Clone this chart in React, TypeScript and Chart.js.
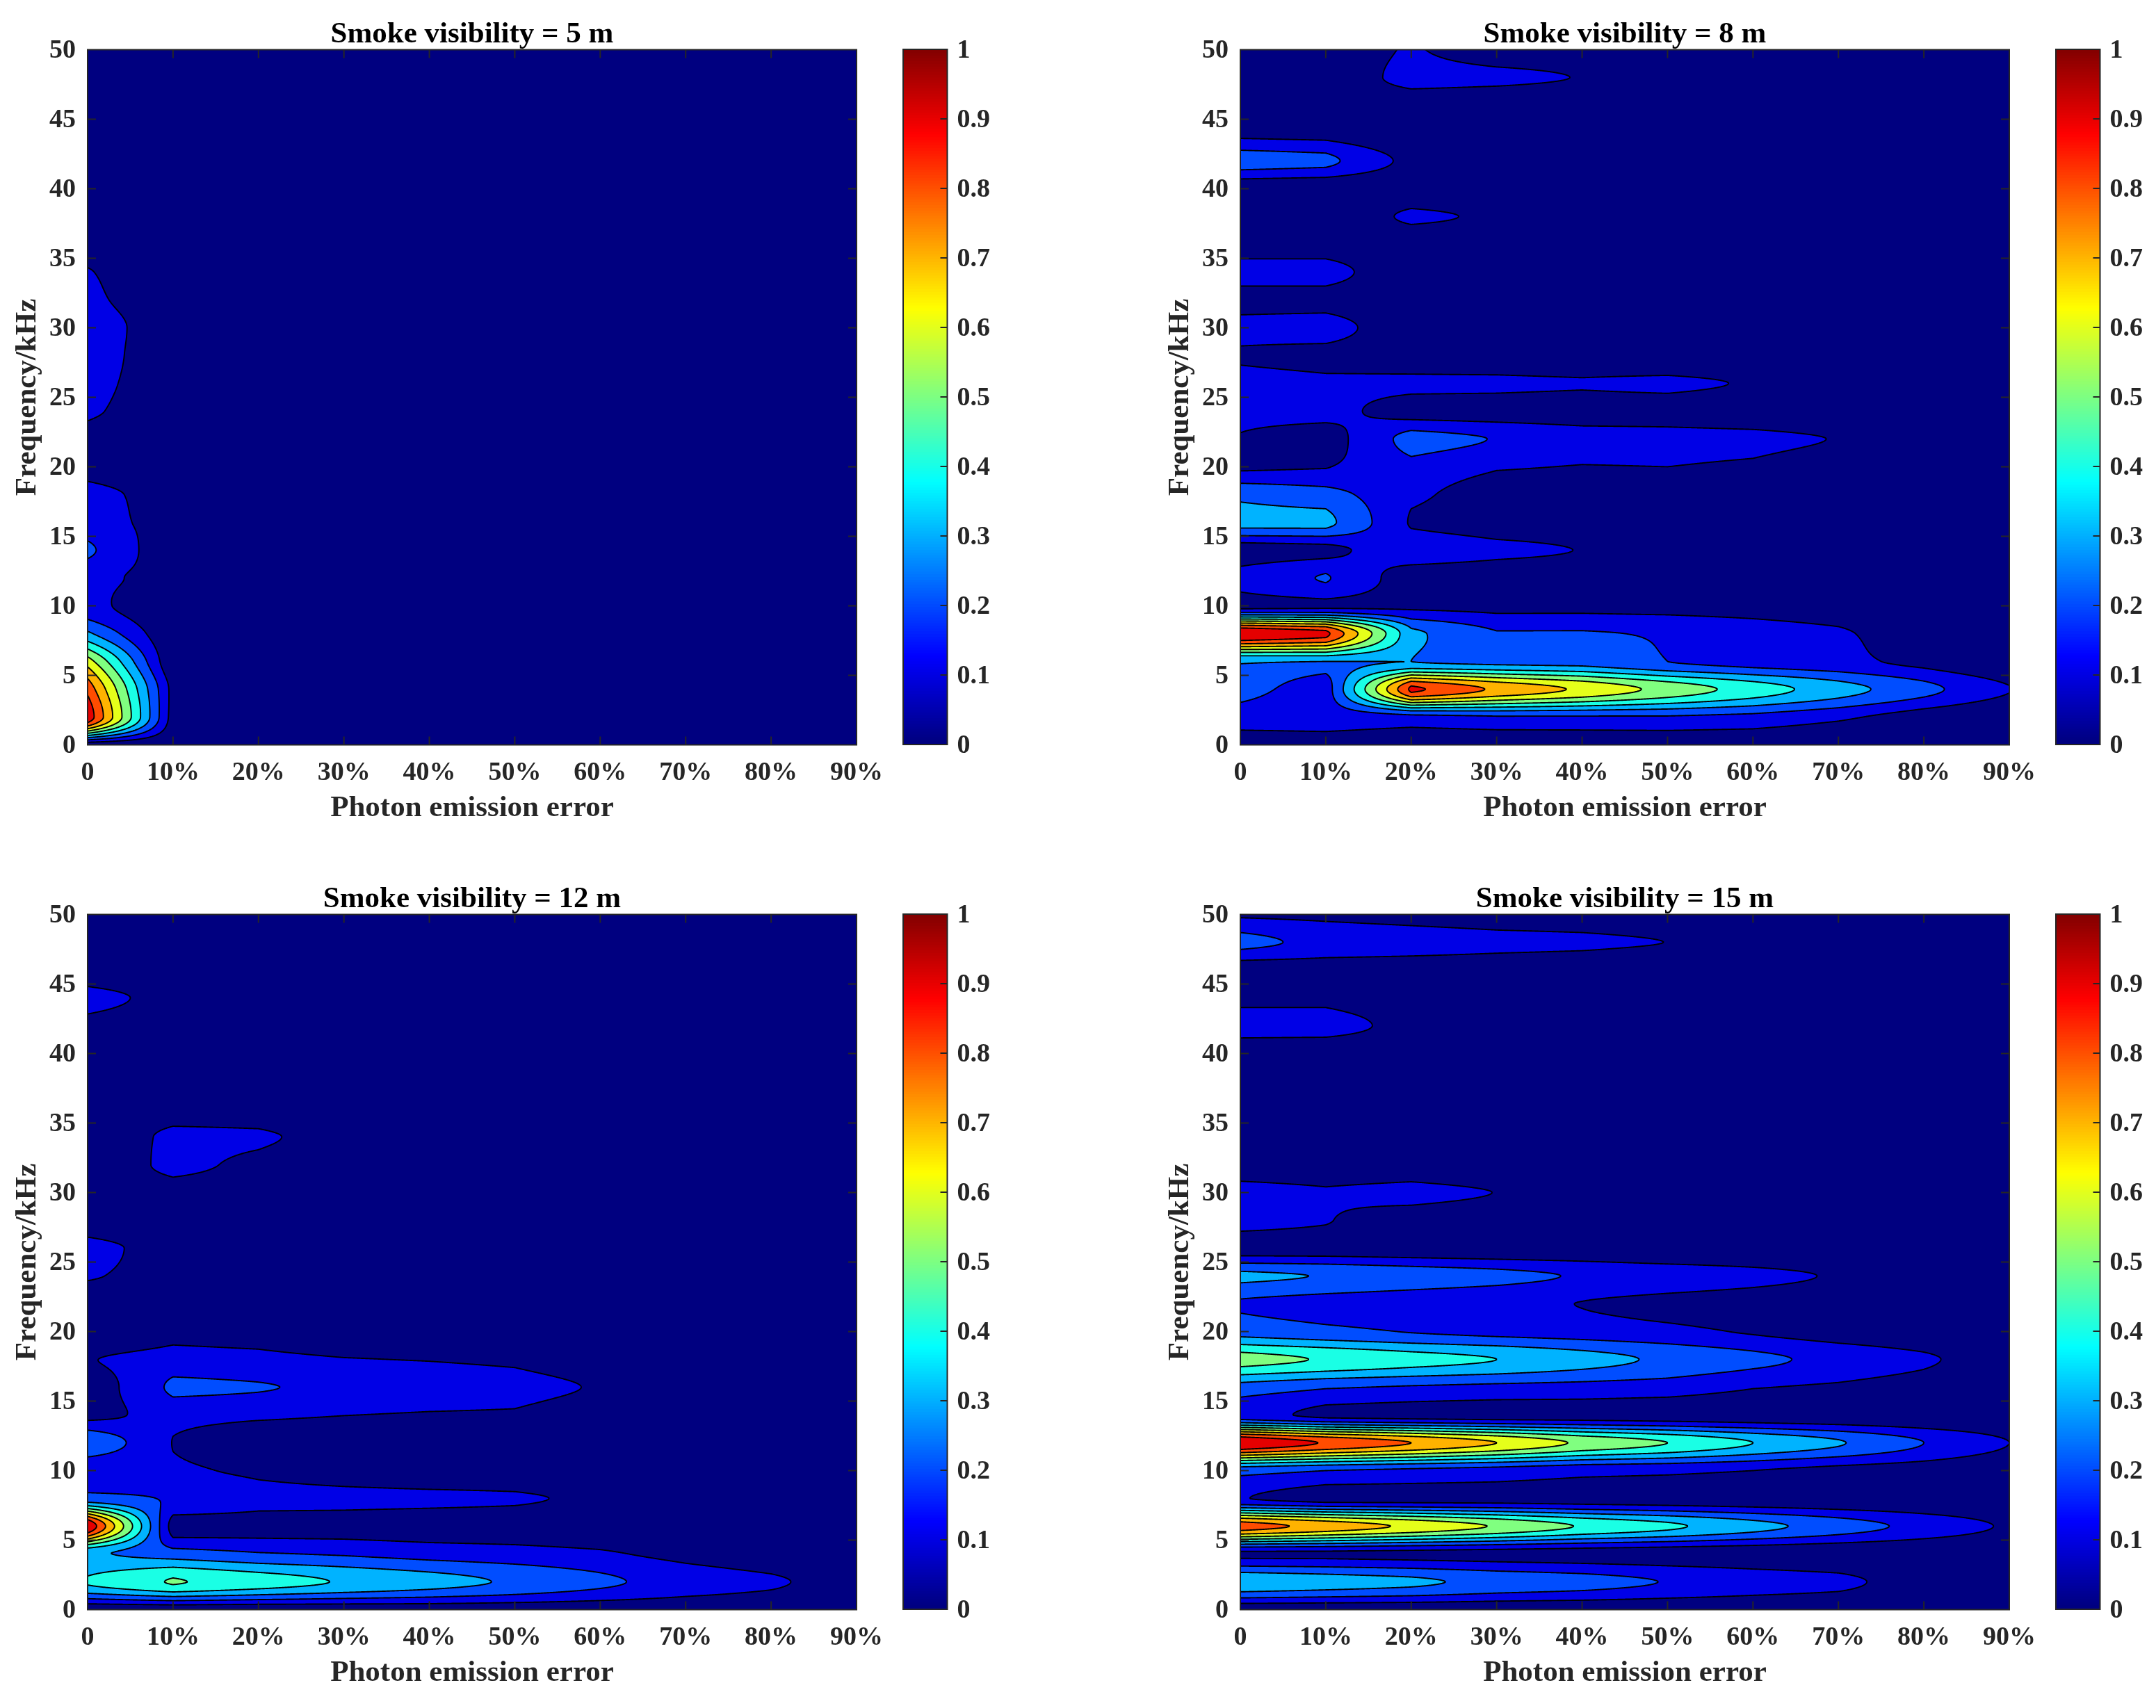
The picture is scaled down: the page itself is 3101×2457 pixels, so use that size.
import React, { useEffect, useRef } from "react";
import { Chart, registerables } from "chart.js";

Chart.register(...registerables);

const errorKnots = [0, 10, 20, 30, 40, 50, 60, 70, 80, 90];
const xTickLabels = ["0", "10%", "20%", "30%", "40%", "50%", "60%", "70%", "80%", "90%"];
const barTickLabels = ["0", "0.1", "0.2", "0.3", "0.4", "0.5", "0.6", "0.7", "0.8", "0.9", "1"];
const freqKnots = [0, 2, 4, 6, 8, 10, 12, 14, 16, 18, 20, 22, 24, 26, 28, 30, 32, 34, 36, 38, 40, 42, 44, 46, 48, 50];
const contourLevels = [0.1, 0.2, 0.3, 0.4, 0.5, 0.6, 0.7, 0.8, 0.9];

// rows run from 0 kHz to 50 kHz in 2 kHz steps; missing trailing columns are 0
const vis5 = [
  [0, 0], [0.97, 0.05], [0.87, 0.06], [0.65, 0], [0.32, 0], [0.14, 0], [0.13, 0.06], [0.22, 0.02],
  [0.14, 0.063], [0.13, 0.06], [0.07, 0.03], [0.07, 0.02], [0.115, 0.04], [0.125, 0.055], [0.13, 0.06],
  [0.13, 0.065], [0.115, 0.055], [0.105, 0.04], [0.05, 0.02], [0.02, 0.01], [0.01], [], [], [], [], [],
];
const vis8 = [
  [0.04, 0.04, 0.02, 0.02, 0.02, 0.02, 0.02, 0.01],
  [0.15, 0.14, 0.17, 0.19, 0.19, 0.19, 0.17, 0.12, 0.05],
  [0.24, 0.14, 0.924, 0.78, 0.682, 0.564, 0.454, 0.343, 0.23, 0.105],
  [0.31, 0.3, 0.3, 0.27, 0.26, 0.2, 0.16, 0.13, 0.07],
  [1.0, 0.93, 0.32, 0.21, 0.21, 0.19, 0.15, 0.115, 0.04],
  [0.07, 0.08, 0.08, 0.07, 0.07, 0.06, 0.05, 0.03, 0.01],
  [0.13, 0.21, 0.04, 0.03, 0.03, 0.02, 0.01],
  [0.05, 0.07, 0.17, 0.125, 0.097, 0.04, 0.02],
  [0.33, 0.33, 0.09, 0.05, 0.04, 0.02],
  [0.28, 0.24, 0.12, 0.05, 0.03],
  [0.09, 0.095, 0.17, 0.11, 0.095, 0.1, 0.08, 0.03],
  [0.095, 0.05, 0.24, 0.195, 0.15, 0.14, 0.13, 0.095, 0.03],
  [0.13, 0.13, 0.06, 0.05, 0.04, 0.04, 0.02],
  [0.14, 0.12, 0.12, 0.12, 0.11, 0.125, 0.09, 0.02],
  [0.085, 0.06, 0.03, 0.02, 0.01],
  [0.14, 0.16],
  [0.05, 0.05],
  [0.15, 0.15],
  [0.03, 0.03],
  [0, 0, 0.125, 0.08],
  [0.03, 0.02],
  [0.25, 0.227, 0.066, 0.01],
  [0.07, 0.06],
  [0, 0, 0.01],
  [0, 0, 0.15, 0.13, 0.095, 0.03],
  [0, 0, 0.12],
];
const vis12 = [
  [0, 0, 0, 0.01, 0.02, 0.02, 0.02, 0.02, 0.01],
  [0.41, 0.51, 0.45, 0.39, 0.34, 0.285, 0.22, 0.155, 0.115, 0.05],
  [0.32, 0.25, 0.21, 0.19, 0.16, 0.14, 0.115, 0.07, 0.03],
  [1.0, 0.05, 0.06, 0.06, 0.05, 0.05, 0.04, 0.03, 0.01],
  [0.24, 0.19, 0.13, 0.125, 0.12, 0.11, 0.085, 0.03],
  [0.12, 0.12, 0.08, 0.05, 0.03, 0.03, 0.01],
  [0.285, 0.097, 0.03, 0.02, 0.01],
  [0.07, 0.135, 0.12, 0.102, 0.09, 0.085, 0.03],
  [0.03, 0.22, 0.205, 0.185, 0.16, 0.135, 0.09, 0.03],
  [0.095, 0.135, 0.125, 0.105, 0.095, 0.08, 0.03],
  [0.03, 0.07, 0.06, 0.03, 0.02, 0.02],
  [0.03, 0.01],
  [0.11, 0.06],
  [0.13, 0.06],
  [0.03, 0.01],
  [0, 0.04, 0.03],
  [0, 0.135, 0.07, 0.01],
  [0, 0.13, 0.115, 0.06, 0.01],
  [0, 0.03, 0.03],
  [], [],
  [0.06, 0.02],
  [0.14, 0.06],
  [0.02],
  [], [],
];
const vis15 = [
  [],
  [0.38, 0.35, 0.32, 0.27, 0.24, 0.195, 0.155, 0.125, 0.05],
  [0.08, 0.08, 0.07, 0.06, 0.05, 0.04, 0.03, 0.02, 0.01],
  [0.85, 0.763, 0.68, 0.59, 0.49, 0.42, 0.335, 0.25, 0.166, 0.085],
  [0.105, 0.06, 0.06, 0.06, 0.05, 0.04, 0.03, 0.02, 0.01],
  [0.24, 0.2, 0.18, 0.16, 0.13, 0.12, 0.1, 0.07, 0.05, 0.02],
  [1.0, 0.89, 0.8, 0.7, 0.58, 0.5, 0.4, 0.31, 0.2, 0.1],
  [0.14, 0.075, 0.06, 0.05, 0.05, 0.04, 0.03, 0.02, 0.01],
  [0.26, 0.21, 0.19, 0.175, 0.165, 0.15, 0.105, 0.085, 0.05],
  [0.54, 0.49, 0.44, 0.4, 0.34, 0.28, 0.225, 0.17, 0.115, 0.04],
  [0.26, 0.225, 0.195, 0.17, 0.15, 0.125, 0.09, 0.05, 0.02],
  [0.19, 0.16, 0.14, 0.12, 0.098, 0.07, 0.05, 0.03, 0.01],
  [0.32, 0.295, 0.26, 0.23, 0.19, 0.165, 0.13, 0.09, 0.03],
  [0.05, 0.05, 0.04, 0.03, 0.02],
  [0.13, 0.105, 0.05, 0.03, 0.01],
  [0.14, 0.11, 0.135, 0.098, 0.02],
  [0.02, 0.01, 0.02],
  [], [], [],
  [0.01],
  [0.16, 0.16, 0.05],
  [0.07, 0.07, 0.02],
  [0.05, 0.05, 0.04, 0.03, 0.02],
  [0.23, 0.17, 0.15, 0.13, 0.12, 0.099, 0.02],
  [0.08, 0.07, 0.05, 0.03, 0.02],
];

const panels = [
  { title: "Smoke visibility = 5 m", rows: vis5, left: 0, top: 0 },
  { title: "Smoke visibility = 8 m", rows: vis8, left: 1658, top: 0 },
  { title: "Smoke visibility = 12 m", rows: vis12, left: 0, top: 1244 },
  { title: "Smoke visibility = 15 m", rows: vis15, left: 1658, top: 1244 },
];

const FONT = "'Liberation Serif', 'Times New Roman', serif";
const INK = "#262626";
const MAIN_W = 1290;
const MAIN_H = 1220;
const BAR_W = 160;
const PLOT_LEFT = 126;
const PLOT_RIGHT = 1232;
const PLOT_TOP = 71.4;
const PLOT_BOTTOM = 1071.5;
const TITLE_BOX = 43.4;

function jet(t: number): [number, number, number] {
  const c = (v: number) => Math.round(255 * Math.max(0, Math.min(1, v)));
  return [
    c(Math.min(4 * t - 1.5, -4 * t + 4.5)),
    c(Math.min(4 * t - 0.5, -4 * t + 3.5)),
    c(Math.min(4 * t + 0.5, -4 * t + 2.5)),
  ];
}

// shape-preserving cubic slopes along the frequency axis
function pchipSlopes(h: number, ys: number[]) {
  const n = ys.length;
  const del = new Array(n - 1);
  for (let i = 0; i < n - 1; i++) del[i] = (ys[i + 1] - ys[i]) / h;
  const m = new Array(n).fill(0);
  for (let i = 1; i < n - 1; i++) {
    if (del[i - 1] * del[i] > 0) m[i] = (2 * del[i - 1] * del[i]) / (del[i - 1] + del[i]);
  }
  m[0] = del[0];
  m[n - 1] = del[n - 2];
  return m;
}

function pchipAt(h: number, ys: number[], m: number[], x: number) {
  let k = Math.floor(x / h);
  k = Math.max(0, Math.min(ys.length - 2, k));
  const t = (x - k * h) / h;
  const t2 = t * t;
  const t3 = t2 * t;
  return (
    (2 * t3 - 3 * t2 + 1) * ys[k] +
    (t3 - 2 * t2 + t) * h * m[k] +
    (-2 * t3 + 3 * t2) * ys[k + 1] +
    (t3 - t2) * h * m[k + 1]
  );
}

function contourPlugin(rows: number[][]) {
  return {
    id: "contourFill",
    afterDatasetsDraw(chart: any) {
      const { ctx, chartArea, scales } = chart;
      const xS = scales.x;
      const yS = scales.y;
      const left = Math.round(chartArea.left);
      const top = Math.round(chartArea.top);
      const w = Math.round(chartArea.right) - left;
      const h = Math.round(chartArea.bottom) - top;
      const nx = w + 1;
      const ny = h + 1;
      const freqAt = new Float64Array(ny);
      for (let j = 0; j < ny; j++) freqAt[j] = yS.getValueForPixel(top + j);
      const fStep = freqKnots[1] - freqKnots[0];
      const cols = errorKnots.map((_, c) => {
        const ys = rows.map((r) => (c < r.length ? r[c] : 0));
        const m = pchipSlopes(fStep, ys);
        const out = new Float32Array(ny);
        for (let j = 0; j < ny; j++) out[j] = pchipAt(fStep, ys, m, freqAt[j]);
        return out;
      });
      const V = new Float32Array(nx * ny);
      const step = errorKnots[1] - errorKnots[0];
      for (let i = 0; i < nx; i++) {
        const e = Math.max(0, Math.min(90, xS.getValueForPixel(left + i)));
        const c = Math.min(errorKnots.length - 2, Math.floor(e / step));
        const t = (e - errorKnots[c]) / step;
        const a = cols[c];
        const b = cols[c + 1];
        for (let j = 0; j < ny; j++) V[j * nx + i] = a[j] * (1 - t) + b[j] * t;
      }
      const palette = Array.from({ length: 10 }, (_, k) => jet(k / 10));
      const off = document.createElement("canvas");
      off.width = w;
      off.height = h;
      const octx = off.getContext("2d")!;
      const img = octx.createImageData(w, h);
      for (let j = 0; j < h; j++) {
        for (let i = 0; i < w; i++) {
          const v = V[j * nx + i];
          let band = Math.floor(v * 10);
          band = band < 0 ? 0 : band > 9 ? 9 : band;
          const rgb = palette[band];
          const o = (j * w + i) * 4;
          img.data[o] = rgb[0];
          img.data[o + 1] = rgb[1];
          img.data[o + 2] = rgb[2];
          img.data[o + 3] = 255;
        }
      }
      octx.putImageData(img, 0, 0);
      ctx.save();
      ctx.drawImage(off, left, top);
      ctx.beginPath();
      ctx.rect(chartArea.left, chartArea.top, chartArea.width, chartArea.height);
      ctx.clip();
      ctx.strokeStyle = "#000";
      ctx.lineWidth = 1.9;
      ctx.lineCap = "round";
      ctx.lineJoin = "round";
      for (const level of contourLevels) {
        ctx.beginPath();
        for (let j = 0; j < h; j++) {
          for (let i = 0; i < w; i++) {
            const a = V[j * nx + i];
            const b = V[j * nx + i + 1];
            const c = V[(j + 1) * nx + i + 1];
            const d = V[(j + 1) * nx + i];
            const code = (a >= level ? 1 : 0) | (b >= level ? 2 : 0) | (c >= level ? 4 : 0) | (d >= level ? 8 : 0);
            if (code === 0 || code === 15) continue;
            const px: number[] = [];
            if ((code & 1) !== ((code >> 1) & 1)) px.push(left + i + (level - a) / (b - a), top + j);
            if (((code >> 1) & 1) !== ((code >> 2) & 1)) px.push(left + i + 1, top + j + (level - b) / (c - b));
            if (((code >> 2) & 1) !== ((code >> 3) & 1)) px.push(left + i + 1 - (level - c) / (d - c), top + j + 1);
            if (((code >> 3) & 1) !== (code & 1)) px.push(left + i, top + j + 1 - (level - d) / (a - d));
            ctx.moveTo(px[0], px[1]);
            ctx.lineTo(px[2], px[3]);
            if (px.length === 8) {
              ctx.moveTo(px[4], px[5]);
              ctx.lineTo(px[6], px[7]);
            }
          }
        }
        ctx.stroke();
      }
      ctx.restore();
    },
  };
}

const framePlugin = {
  id: "boxFrame",
  afterDraw(chart: any) {
    const { ctx, chartArea: a, scales } = chart;
    const tickLen = 12;
    ctx.save();
    ctx.strokeStyle = INK;
    ctx.lineWidth = 2;
    ctx.beginPath();
    ctx.rect(a.left, a.top, a.width, a.height);
    for (const t of scales.x.ticks) {
      const p = scales.x.getPixelForValue(t.value);
      ctx.moveTo(p, a.bottom);
      ctx.lineTo(p, a.bottom - tickLen);
      ctx.moveTo(p, a.top);
      ctx.lineTo(p, a.top + tickLen);
    }
    for (const t of scales.y.ticks) {
      const p = scales.y.getPixelForValue(t.value);
      ctx.moveTo(a.left, p);
      ctx.lineTo(a.left + tickLen, p);
      ctx.moveTo(a.right, p);
      ctx.lineTo(a.right - tickLen, p);
    }
    ctx.stroke();
    ctx.restore();
  },
};

const barFramePlugin = {
  id: "barFrame",
  afterDraw(chart: any) {
    const { ctx, chartArea: a, scales } = chart;
    ctx.save();
    ctx.strokeStyle = INK;
    ctx.lineWidth = 2;
    ctx.beginPath();
    ctx.rect(a.left, a.top, a.width, a.height);
    for (const t of scales.y.ticks) {
      const p = scales.y.getPixelForValue(t.value);
      ctx.moveTo(a.right, p);
      ctx.lineTo(a.right - 10, p);
    }
    ctx.stroke();
    ctx.restore();
  },
};

function Panel({ title, rows, left, top }: { title: string; rows: number[][]; left: number; top: number }) {
  const mainRef = useRef<HTMLCanvasElement>(null);
  const barRef = useRef<HTMLCanvasElement>(null);
  useEffect(() => {
    const points: { x: number; y: number; v: number }[] = [];
    rows.forEach((r, j) =>
      errorKnots.forEach((x, c) => points.push({ x, y: freqKnots[j], v: c < r.length ? r[c] : 0 }))
    );
    const tickFont = { family: FONT, size: 38, weight: "bold" as const };
    const labelFont = { family: FONT, size: 43, weight: "bold" as const };
    const main = new Chart(mainRef.current!, {
      type: "scatter",
      data: { datasets: [{ label: title, data: points, pointRadius: 0, showLine: false }] },
      plugins: [contourPlugin(rows), framePlugin],
      options: {
        animation: false,
        responsive: false,
        layout: {
          autoPadding: false,
          padding: { top: PLOT_TOP - TITLE_BOX, left: 0, right: MAIN_W - PLOT_RIGHT, bottom: 0 },
        },
        plugins: {
          legend: { display: false },
          tooltip: { enabled: false },
          title: {
            display: true,
            text: title,
            color: "#000",
            font: { ...labelFont, lineHeight: TITLE_BOX / 43 },
            fullSize: false,
            padding: 0,
          },
        },
        scales: {
          x: {
            type: "linear",
            min: 0,
            max: 90,
            grid: { display: false, drawTicks: false },
            border: { display: false },
            ticks: {
              stepSize: 10,
              autoSkip: false,
              maxRotation: 0,
              minRotation: 0,
              padding: 18,
              color: INK,
              font: tickFont,
              callback: (_v: any, i: number) => xTickLabels[i],
            },
            title: {
              display: true,
              text: "Photon emission error",
              color: INK,
              font: labelFont,
              padding: { top: 0, bottom: 31 },
            },
            afterFit: (s: any) => {
              s.height = MAIN_H - PLOT_BOTTOM;
            },
          },
          y: {
            type: "linear",
            min: 0,
            max: 50,
            grid: { display: false, drawTicks: false },
            border: { display: false },
            ticks: { stepSize: 5, autoSkip: false, padding: 17, labelOffset: 2, color: INK, font: tickFont },
            title: {
              display: true,
              text: "Frequency/kHz",
              color: INK,
              font: labelFont,
              padding: { top: 14, bottom: 0 },
            },
            afterFit: (s: any) => {
              s.width = PLOT_LEFT;
            },
          },
        },
      } as any,
    });
    const steps = Array.from({ length: 256 }, (_, i) => i);
    const bar = new Chart(barRef.current!, {
      type: "bar",
      data: {
        labels: ["colour"],
        datasets: steps.map((i) => {
          const [r, g, b] = jet((i + 0.5) / 256);
          return {
            label: String(i),
            data: [[i / 256, (i + 1.6) / 256]],
            backgroundColor: `rgb(${r},${g},${b})`,
            borderWidth: 0,
            barPercentage: 1,
            categoryPercentage: 1,
            grouped: false,
          };
        }),
      },
      plugins: [barFramePlugin],
      options: {
        animation: false,
        responsive: false,
        layout: {
          autoPadding: false,
          padding: { top: 71, left: 9, right: 0, bottom: MAIN_H - 1071 },
        },
        plugins: { legend: { display: false }, tooltip: { enabled: false } },
        scales: {
          x: { display: false, grid: { display: false } },
          y: {
            type: "linear",
            position: "right",
            min: 0,
            max: 1,
            grid: { display: false, drawTicks: false },
            border: { display: false },
            ticks: {
              stepSize: 0.1,
              autoSkip: false,
              padding: 14,
              labelOffset: 2,
              color: INK,
              font: tickFont,
              callback: (_v: any, i: number) => barTickLabels[i],
            },
            afterFit: (s: any) => {
              s.width = BAR_W - 9 - 63.5;
            },
          },
        },
      } as any,
    });
    return () => {
      main.destroy();
      bar.destroy();
    };
  }, [title, rows]);
  return (
    <>
      <canvas
        ref={mainRef}
        width={MAIN_W}
        height={MAIN_H}
        style={{ position: "absolute", left, top, width: MAIN_W, height: MAIN_H }}
      />
      <canvas
        ref={barRef}
        width={BAR_W}
        height={MAIN_H}
        style={{ position: "absolute", left: left + 1290, top, width: BAR_W, height: MAIN_H }}
      />
    </>
  );
}

export default function App() {
  return (
    <div style={{ position: "absolute", left: 0, top: 0, width: 3101, height: 2457, background: "#fff", overflow: "hidden" }}>
      {panels.map((p) => (
        <Panel key={p.title} {...p} />
      ))}
    </div>
  );
}
